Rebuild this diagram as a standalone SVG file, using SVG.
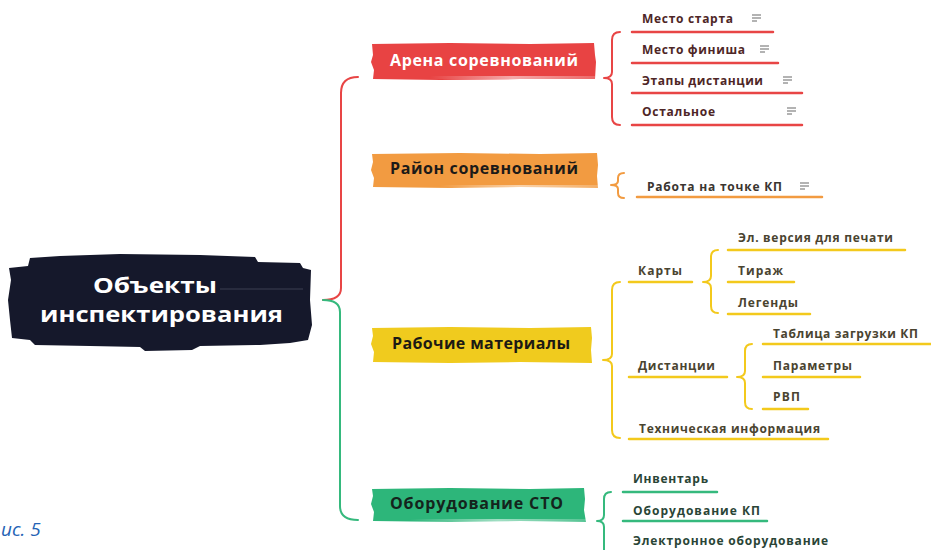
<svg xmlns="http://www.w3.org/2000/svg" width="931" height="550" viewBox="0 0 931 550">
<defs>
<style>
.lbl{font-family:"Open Sans","Liberation Sans",sans-serif;font-weight:700;font-size:12px}
.main{font-family:"Open Sans","Liberation Sans",sans-serif;font-weight:700;font-size:16px}
.root{font-family:"Open Sans","Liberation Sans",sans-serif;font-weight:700;font-size:21px;fill:#ffffff}
.br{fill:none;stroke-width:2;stroke-linecap:round;stroke-linejoin:round}
.ul{stroke-width:2.5;stroke-linecap:round}
.red{stroke:#e84545}.org{stroke:#f29b41}.yel{stroke:#f3c91c}.grn{stroke:#35b97d}
.tr{fill:#4e2626}.to{fill:#3a3530}.ty{fill:#4a4430}.tg{fill:#2a4536}
</style>
<symbol id="note" viewBox="0 0 9 8" width="9" height="8">
<path d="M0 1H9M0 4H9M0 7H5" stroke="#9a9a9a" stroke-width="1.4" fill="none"/>
</symbol>
<linearGradient id="fade" x1="0" y1="0" x2="1" y2="0">
<stop offset="0" stop-color="#ffffff" stop-opacity="0"/>
<stop offset="0.5" stop-color="#ffffff" stop-opacity="0.55"/>
<stop offset="1" stop-color="#ffffff" stop-opacity="0.2"/>
</linearGradient>
</defs>
<rect width="931" height="550" fill="#ffffff"/>

<g id="connectors">
<path class="br red" d="M358,77 Q341,77 341,93 L341,288 Q341,300 323,300"/>
<path class="br grn" d="M323,300 Q340,300 340,312 L340,506 Q340,520 358,520"/>
<path class="br red" d="M620,32 Q612,32 612,40 L612,72 Q612,78 604,78 Q612,78 612,84 L612,117 Q612,125 620,125"/>
<path class="br org" d="M624,173 Q618,173 618,178 L618,181 Q618,185 611,185 Q618,185 618,189 L618,193 Q618,198 624,198"/>
<path class="br yel" d="M620,282 Q612,282 612,290 L612,354 Q612,360 603,360 Q612,360 612,366 L612,430 Q612,438 620,438"/>
<path class="br yel" d="M718,250 Q711,250 711,257 L711,276 Q711,282 703,282 Q711,282 711,288 L711,306 Q711,313 718,313"/>
<path class="br yel" d="M752,344 Q745,344 745,351 L745,371 Q745,377 737,377 Q745,377 745,383 L745,402 Q745,409 752,409"/>
<path class="br grn" d="M611,492 Q604,492 604,499 L604,515 Q604,521 597,521 Q604,521 604,527 L604,556"/>
</g>

<g id="root">
<path fill="#15182b" d="M30,258 L60,256 L120,254 L200,255 L255,257 L258,262 L300,263 L303,268 L311,270 L310,300 L312,325 L308,340 L290,343 L260,345 L200,346 L192,350 L145,351 L140,347 L90,346 L35,345 L30,340 L12,338 L10,320 L8,300 L11,280 L9,268 L28,266 Z"/>
<line x1="220" y1="289" x2="303" y2="289" stroke="#6a6e80" stroke-width="1" opacity="0.45"/>
<text class="root" x="93" y="293" textLength="124" lengthAdjust="spacingAndGlyphs">Объекты</text>
<text class="root" x="40" y="322" textLength="243" lengthAdjust="spacingAndGlyphs">инспектирования</text>
</g>

<g id="arena">
<path fill="#e84343" d="M372,44 L450,43 L530,44 L594,43 L595,55 L596,62 L595,79 L520,79 L440,80 L373,79 L374,70 L371,62 L373,55 Z"/>
<rect x="430" y="76" width="165" height="3" fill="url(#fade)"/>
<text class="main" x="390" y="66" fill="#ffffff" textLength="188">Арена соревнований</text>
</g>
<g id="arena-start">
<line class="ul red" x1="632" y1="32" x2="773" y2="32"/>
<text class="lbl tr" x="642" y="23" textLength="91">Место старта</text>
<use href="#note" x="752" y="14"/>
</g>
<g id="arena-finish">
<line class="ul red" x1="632" y1="63" x2="778" y2="63"/>
<text class="lbl tr" x="642" y="54" textLength="103">Место финиша</text>
<use href="#note" x="760" y="45"/>
</g>
<g id="arena-stages">
<line class="ul red" x1="632" y1="93" x2="802" y2="93"/>
<text class="lbl tr" x="642" y="85" textLength="121">Этапы дистанции</text>
<use href="#note" x="783" y="76"/>
</g>
<g id="arena-other">
<line class="ul red" x1="632" y1="125" x2="802" y2="125"/>
<text class="lbl tr" x="642" y="116" textLength="73">Остальное</text>
<use href="#note" x="787" y="107"/>
</g>

<g id="rayon">
<path fill="#f29b41" d="M372,154 L460,153 L540,154 L597,153 L598,165 L597,176 L598,188 L520,187 L450,188 L373,187 L374,178 L371,170 L373,162 Z"/>
<rect x="440" y="185" width="158" height="3" fill="url(#fade)"/>
<text class="main" x="390" y="174" fill="#1c1a18" textLength="188">Район соревнований</text>
</g>
<g id="rayon-kp">
<line class="ul org" x1="637" y1="197" x2="822" y2="197"/>
<text class="lbl to" x="647" y="191" textLength="135">Работа на точке КП</text>
<use href="#note" x="800" y="182"/>
</g>

<g id="materials">
<path fill="#f0cb1e" d="M372,328 L450,327 L530,328 L591,327 L592,338 L591,350 L592,363 L520,362 L450,363 L373,362 L374,352 L371,344 L373,336 Z"/>
<text class="main" x="392" y="349" fill="#1c1a14" textLength="178">Рабочие материалы</text>
</g>
<g id="maps">
<line class="ul yel" x1="629" y1="282" x2="692" y2="282"/>
<text class="lbl ty" x="638" y="275" textLength="44">Карты</text>
</g>
<g id="maps-el">
<line class="ul yel" x1="728" y1="250" x2="905" y2="250"/>
<text class="lbl ty" x="738" y="242" textLength="155">Эл. версия для печати</text>
</g>
<g id="maps-tirazh">
<line class="ul yel" x1="728" y1="282" x2="794" y2="282"/>
<text class="lbl ty" x="738" y="275" textLength="45">Тираж</text>
</g>
<g id="maps-legend">
<line class="ul yel" x1="728" y1="314" x2="810" y2="314"/>
<text class="lbl ty" x="738" y="307" textLength="60">Легенды</text>
</g>
<g id="distances">
<line class="ul yel" x1="629" y1="377" x2="727" y2="377"/>
<text class="lbl ty" x="638" y="370" textLength="77">Дистанции</text>
</g>
<g id="dist-table">
<line class="ul yel" x1="763" y1="344" x2="931" y2="344"/>
<text class="lbl ty" x="773" y="338" textLength="145">Таблица загрузки КП</text>
</g>
<g id="dist-params">
<line class="ul yel" x1="763" y1="377" x2="860" y2="377"/>
<text class="lbl ty" x="773" y="370" textLength="79">Параметры</text>
</g>
<g id="dist-rvp">
<line class="ul yel" x1="763" y1="409" x2="808" y2="409"/>
<text class="lbl ty" x="773" y="401" textLength="27">РВП</text>
</g>
<g id="tech-info">
<line class="ul yel" x1="629" y1="439" x2="828" y2="439"/>
<text class="lbl ty" x="639" y="433" textLength="181">Техническая информация</text>
</g>

<g id="equipment">
<path fill="#2db67a" d="M372,489 L450,488 L530,489 L584,488 L585,499 L584,510 L586,522 L520,521 L450,522 L373,521 L374,512 L371,504 L373,496 Z"/>
<rect x="410" y="519" width="176" height="3" fill="url(#fade)"/>
<text class="main" x="390" y="509" fill="#14241c" textLength="173">Оборудование СТО</text>
</g>
<g id="eq-inventory">
<line class="ul grn" x1="623" y1="492" x2="717" y2="492"/>
<text class="lbl tg" x="633" y="483" textLength="75">Инвентарь</text>
</g>
<g id="eq-kp">
<line class="ul grn" x1="623" y1="521" x2="767" y2="521"/>
<text class="lbl tg" x="633" y="515" textLength="127">Оборудование КП</text>
</g>
<g id="eq-electronic">
<line class="ul grn" x1="623" y1="552" x2="840" y2="552"/>
<text class="lbl tg" x="633" y="545" textLength="195">Электронное оборудование</text>
</g>

<text x="1" y="536" font-family="'Open Sans','Liberation Sans',sans-serif" font-style="italic" font-size="19" fill="#2463b5">ис. 5</text>
</svg>
